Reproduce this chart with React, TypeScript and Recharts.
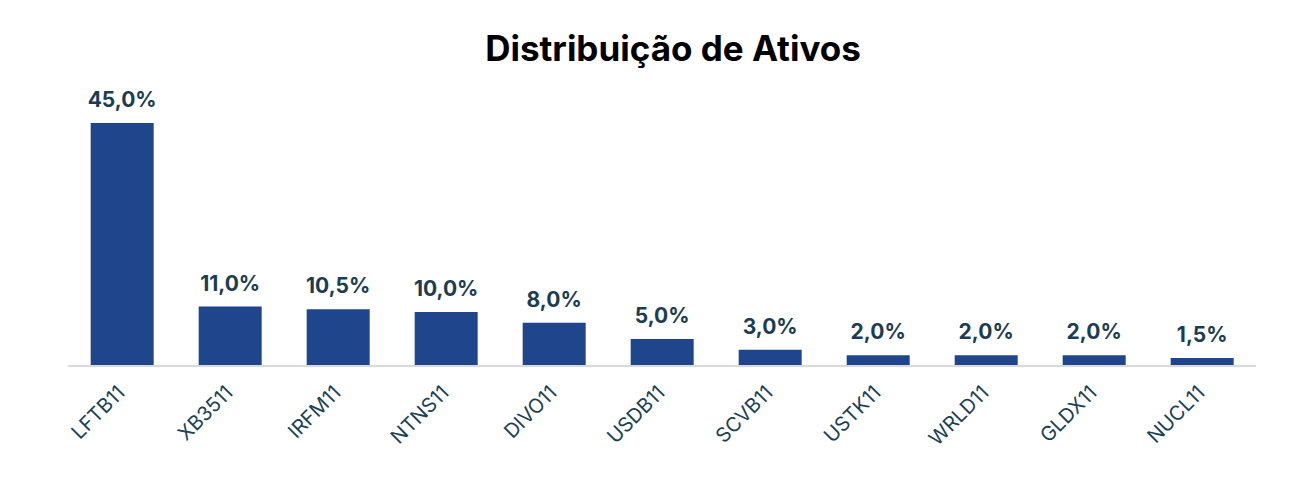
import { Bar, BarChart, LabelList, XAxis, YAxis } from "recharts";

const tickers = ["LFTB11", "XB3511", "IRFM11", "NTNS11", "DIVO11", "USDB11", "SCVB11", "USTK11", "WRLD11", "GLDX11", "NUCL11"];
const weights = [45.0, 11.0, 10.5, 10.0, 8.0, 5.0, 3.0, 2.0, 2.0, 2.0, 1.5];

const data = tickers.map((ticker, i) => ({ ticker, weight: weights[i] }));

const fmt = (v: number) => `${v.toFixed(1).replace(".", ",")}%`;

const AngledTick = ({ x, y, payload }: any) => (
    <text
        transform={`translate(${x + 4},${y + 20}) rotate(-45)`}
        textAnchor="end"
        fill="#1b4154"
        fontSize={20}
        fontFamily="Inter"
        fontWeight={400}
    >
        {payload.value}
    </text>
);

const App = () => (
    <div style={{ position: "absolute", left: 0, top: 0, width: 1311, height: 487, background: "#fff" }}>
        <div
            style={{
                position: "absolute",
                left: 0,
                width: 1346,
                top: 27,
                textAlign: "center",
                fontFamily: "Inter",
                fontWeight: 700,
                fontSize: 35,
                color: "#000",
            }}
        >
            Distribuição de Ativos
        </div>
        <BarChart
            width={1311}
            height={487}
            data={data}
            margin={{ top: 123, right: 55, bottom: 21, left: 68 }}
            barCategoryGap="21%"
        >
            <XAxis
                dataKey="ticker"
                height={100}
                interval={0}
                tickLine={false}
                axisLine={{ stroke: "#d9d9d9", strokeWidth: 2 }}
                tick={<AngledTick />}
            />
            <YAxis hide domain={[0, 45]} />
            <Bar dataKey="weight" fill="#1f458c" isAnimationActive={false}>
                <LabelList
                    dataKey="weight"
                    position="top"
                    offset={16}
                    formatter={(v: any) => fmt(Number(v))}
                    fill="#1b3d4f"
                    fontSize={21}
                    fontWeight={700}
                    fontFamily="Inter"
                />
            </Bar>
        </BarChart>
    </div>
);

export default App;
